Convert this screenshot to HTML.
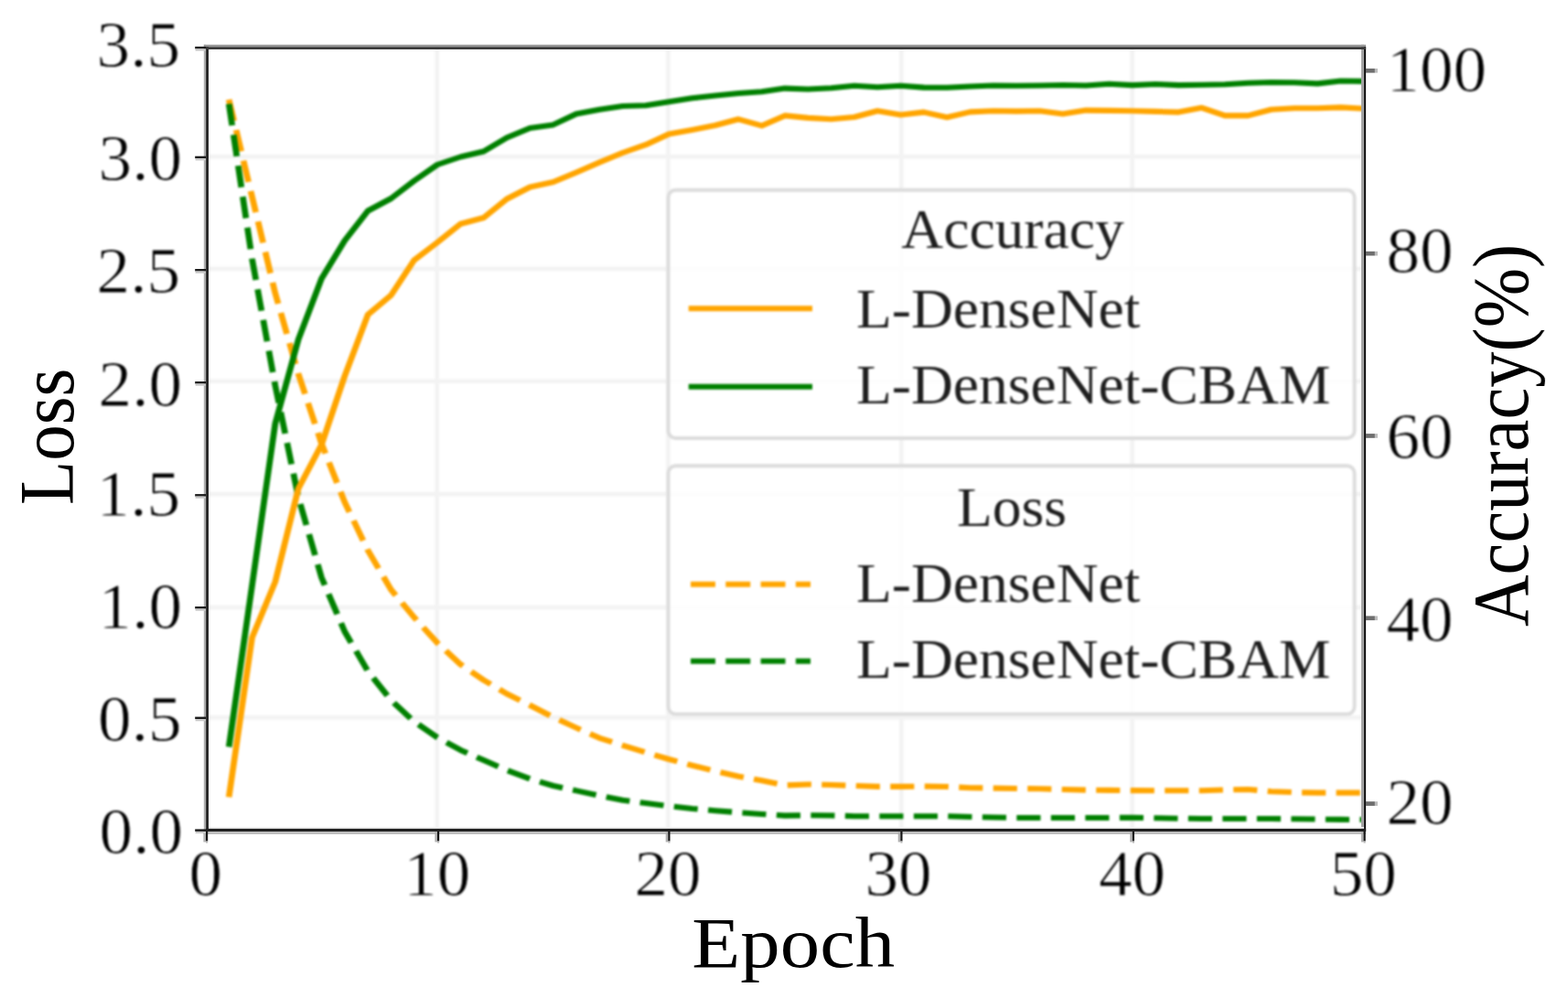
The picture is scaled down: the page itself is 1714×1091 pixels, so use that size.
<!DOCTYPE html>
<html lang="en"><head><meta charset="utf-8"><title>Loss and Accuracy vs Epoch</title>
<style>
html,body{margin:0;padding:0;background:#fff;}
body{width:1714px;height:1091px;overflow:hidden;}
svg{display:block;}
text{font-family:"Liberation Serif",serif;fill:#000;}
.tk text{stroke:#fff;stroke-width:0.8px;stroke-linejoin:round;}
.lg text{fill:#1e1e1e;}
.soft{filter:blur(0.8px);}
.soft2{filter:blur(0.35px);}
.cv{filter:blur(0.7px);}
</style></head><body>
<svg width="1714" height="1091" viewBox="0 0 1714 1091" role="img" aria-label="Training loss and accuracy versus epoch for L-DenseNet and L-DenseNet-CBAM">
<rect width="1714" height="1091" fill="#fff"/>
<g class="soft">
<rect x="-20" y="-20" width="1754" height="1131" fill="#fff"/>
<g stroke="#f3f3f3" stroke-width="4.6" fill="none">
<line x1="477.8" y1="51.5" x2="477.8" y2="907.6"/>
<line x1="730.4" y1="51.5" x2="730.4" y2="907.6"/>
<line x1="985.2" y1="51.5" x2="985.2" y2="907.6"/>
<line x1="1237.6" y1="51.5" x2="1237.6" y2="907.6"/>
<line x1="225.7" y1="171.3" x2="1491.2" y2="171.3"/>
<line x1="225.7" y1="293.9" x2="1491.2" y2="293.9"/>
<line x1="225.7" y1="416.7" x2="1491.2" y2="416.7"/>
<line x1="225.7" y1="540.1" x2="1491.2" y2="540.1"/>
<line x1="225.7" y1="664.0" x2="1491.2" y2="664.0"/>
<line x1="225.7" y1="784.4" x2="1491.2" y2="784.4"/>
</g>
<g class="cv" fill="none" stroke-width="6.1" stroke-linejoin="round" transform="scale(1.1,1)">
<polyline stroke="#ffa500" stroke-dasharray="23.77 10.33" points="227.47,108.9 250.49,215.0 273.51,320.6 296.53,408.9 319.55,485.0 342.56,549.0 365.58,601.6 388.60,644.6 411.62,675.0 434.64,702.8 457.65,726.3 480.67,743.5 503.69,758.5 526.71,771.0 549.73,784.0 572.75,795.6 595.76,806.8 618.78,814.8 641.80,822.5 664.82,830.0 687.84,836.8 710.85,843.0 733.87,848.7 756.89,853.3 779.91,858.5 802.93,857.5 825.95,858.0 848.96,859.0 871.98,859.9 895.00,859.9 918.02,859.6 941.04,860.0 964.05,861.2 987.07,861.6 1010.09,862.0 1033.11,862.3 1056.13,863.0 1079.15,863.6 1102.16,863.9 1125.18,864.1 1148.20,864.2 1171.22,864.3 1194.24,864.2 1217.25,863.5 1240.27,863.0 1263.29,865.2 1286.31,866.2 1309.33,866.6 1332.35,866.6 1355.36,866.6"/>
<polyline stroke="#008000" stroke-dasharray="23.77 10.33" points="227.47,113.6 250.49,283.0 273.51,421.6 296.53,543.8 319.55,631.5 342.56,690.5 365.58,733.8 388.60,765.4 411.62,788.9 434.64,806.2 457.65,819.9 480.67,831.1 503.69,842.0 526.71,851.5 549.73,859.0 572.75,864.4 595.76,869.7 618.78,874.7 641.80,878.0 664.82,881.2 687.84,884.0 710.85,886.2 733.87,888.2 756.89,890.0 779.91,891.6 802.93,891.2 825.95,891.5 848.96,892.2 871.98,892.2 895.00,892.2 918.02,892.2 941.04,892.2 964.05,893.0 987.07,893.5 1010.09,894.0 1033.11,894.0 1056.13,894.0 1079.15,894.0 1102.16,894.0 1125.18,893.8 1148.20,894.3 1171.22,894.7 1194.24,895.0 1217.25,895.0 1240.27,895.0 1263.29,895.0 1286.31,895.3 1309.33,895.6 1332.35,895.9 1355.36,896.0"/>
<polyline stroke="#ffa500" points="227.47,871.3 250.49,697.0 273.51,636.0 296.53,534.0 319.55,486.0 342.56,411.0 365.58,344.0 388.60,322.8 411.62,284.3 434.64,265.0 457.65,244.8 480.67,238.0 503.69,217.5 526.71,204.5 549.73,199.0 572.75,188.5 595.76,177.5 618.78,167.0 641.80,158.2 664.82,146.5 687.84,142.0 710.85,137.0 733.87,130.3 756.89,137.4 779.91,126.4 802.93,128.9 825.95,130.3 848.96,128.0 871.98,121.2 895.00,125.5 918.02,122.6 941.04,128.3 964.05,122.4 987.07,121.2 1010.09,121.6 1033.11,121.2 1056.13,124.4 1079.15,120.6 1102.16,120.9 1125.18,121.2 1148.20,121.9 1171.22,122.6 1194.24,117.8 1217.25,126.4 1240.27,126.4 1263.29,119.7 1286.31,118.3 1309.33,118.3 1332.35,117.4 1355.36,118.7"/>
<polyline stroke="#008000" points="227.47,816.5 250.49,640.0 273.51,463.0 296.53,371.0 319.55,304.5 342.56,263.0 365.58,230.5 388.60,217.0 411.62,197.7 434.64,180.0 457.65,171.5 480.67,165.5 503.69,150.5 526.71,140.0 549.73,136.4 572.75,124.5 595.76,119.7 618.78,116.0 641.80,115.2 664.82,111.2 687.84,107.3 710.85,104.5 733.87,102.0 756.89,100.2 779.91,96.6 802.93,97.5 825.95,96.2 848.96,93.7 871.98,95.2 895.00,93.7 918.02,95.6 941.04,95.8 964.05,94.5 987.07,93.5 1010.09,93.8 1033.11,93.5 1056.13,93.0 1079.15,93.5 1102.16,91.8 1125.18,93.1 1148.20,92.0 1171.22,93.1 1194.24,92.7 1217.25,92.2 1240.27,90.8 1263.29,90.0 1286.31,90.2 1309.33,91.4 1332.35,88.5 1355.36,88.9"/>
</g>
<rect x="730.5" y="207.8" width="750.1" height="271.2" rx="8" ry="8" fill="#fff" fill-opacity="0.8" stroke="#dcdcdc" stroke-width="3.9"/>
<g class="lg">
<text transform="translate(1107.0,271.2) scale(1.05,1.0)" font-size="60.5" text-anchor="middle">Accuracy</text>
<line x1="684.27" y1="337.3" x2="807.27" y2="337.3" stroke="#ffa500" stroke-width="6.1" transform="scale(1.1,1)"/>
<text transform="translate(936.0,357.9) scale(1.05,1.0)" font-size="60.5" text-anchor="start">L-DenseNet</text>
<line x1="684.27" y1="422.7" x2="807.27" y2="422.7" stroke="#008000" stroke-width="6.1" transform="scale(1.1,1)"/>
<text transform="translate(936.0,441.2) scale(1.05,1.0)" font-size="60.5" text-anchor="start">L-DenseNet-CBAM</text>
</g>
<rect x="730.5" y="509.3" width="750.1" height="271.3" rx="8" ry="8" fill="#fff" fill-opacity="0.8" stroke="#dcdcdc" stroke-width="3.9"/>
<g class="lg">
<text transform="translate(1106.0,574.8) scale(1.05,1.0)" font-size="60.5" text-anchor="middle">Loss</text>
<line x1="686.36" y1="638.7" x2="805.45" y2="638.7" stroke="#ffa500" stroke-width="6.1" stroke-dasharray="24.5 10.3" transform="scale(1.1,1)"/>
<text transform="translate(936.0,658.0) scale(1.05,1.0)" font-size="60.5" text-anchor="start">L-DenseNet</text>
<line x1="686.36" y1="722.7" x2="805.45" y2="722.7" stroke="#008000" stroke-width="6.1" stroke-dasharray="24.5 10.3" transform="scale(1.1,1)"/>
<text transform="translate(936.0,741.3) scale(1.05,1.0)" font-size="60.5" text-anchor="start">L-DenseNet-CBAM</text>
</g>
</g>
<g class="soft2">
<rect x="222.8" y="48.8" width="2.3" height="863.2" fill="#adadad"/>
<rect x="1488.0" y="48.8" width="3.0" height="863.2" fill="#a2a2a2"/>
<rect x="222.8" y="48.8" width="1270.3" height="2.4" fill="#9a9a9a"/>
<rect x="222.8" y="909.0" width="1270.3" height="3.0" fill="#bebebe"/>
<rect x="225" y="904.0" width="1266" height="1.8" fill="#eeeeee"/>
<rect x="225.1" y="51.2" width="2.9" height="857.8" fill="#262626"/>
<rect x="1491.0" y="51.2" width="2.1" height="857.8" fill="#181818"/>
<rect x="225.1" y="51.2" width="1268" height="2.8" fill="#3a3a3a"/>
<rect x="225.1" y="905.9" width="1268" height="3.1" fill="#202020"/>
<rect x="222.4" y="909" width="2.6" height="11.5" fill="#b0b0b0"/>
<rect x="225.0" y="909" width="2.2" height="10.6" fill="#141414"/>
<rect x="225.0" y="919.6" width="2.2" height="2" fill="#bbbbbb"/>
<rect x="475.4" y="909" width="2.6" height="11.5" fill="#b0b0b0"/>
<rect x="478.0" y="909" width="2.2" height="10.6" fill="#141414"/>
<rect x="478.0" y="919.6" width="2.2" height="2" fill="#bbbbbb"/>
<rect x="727.7" y="909" width="2.6" height="11.5" fill="#b0b0b0"/>
<rect x="730.3" y="909" width="2.2" height="10.6" fill="#141414"/>
<rect x="730.3" y="919.6" width="2.2" height="2" fill="#bbbbbb"/>
<rect x="981.7" y="909" width="2.6" height="11.5" fill="#b0b0b0"/>
<rect x="984.3" y="909" width="2.2" height="10.6" fill="#141414"/>
<rect x="984.3" y="919.6" width="2.2" height="2" fill="#bbbbbb"/>
<rect x="1235.2" y="909" width="2.6" height="11.5" fill="#b0b0b0"/>
<rect x="1237.8" y="909" width="2.2" height="10.6" fill="#141414"/>
<rect x="1237.8" y="919.6" width="2.2" height="2" fill="#bbbbbb"/>
<rect x="1487.9" y="909" width="2.6" height="11.5" fill="#b0b0b0"/>
<rect x="1490.5" y="909" width="2.2" height="10.6" fill="#141414"/>
<rect x="1490.5" y="919.6" width="2.2" height="2" fill="#bbbbbb"/>
<rect x="213.2" y="50.9" width="12" height="2.5" fill="#1c1c1c"/>
<rect x="213.6" y="53.5" width="11.4" height="2.1" fill="#c8c8c8"/>
<rect x="213.2" y="170.7" width="12" height="2.5" fill="#1c1c1c"/>
<rect x="213.6" y="173.3" width="11.4" height="2.1" fill="#c8c8c8"/>
<rect x="213.2" y="294.0" width="12" height="2.5" fill="#1c1c1c"/>
<rect x="213.6" y="296.6" width="11.4" height="2.1" fill="#c8c8c8"/>
<rect x="213.2" y="417.0" width="12" height="2.5" fill="#1c1c1c"/>
<rect x="213.6" y="419.6" width="11.4" height="2.1" fill="#c8c8c8"/>
<rect x="213.2" y="540.1" width="12" height="2.5" fill="#1c1c1c"/>
<rect x="213.6" y="542.7" width="11.4" height="2.1" fill="#c8c8c8"/>
<rect x="213.2" y="663.0" width="12" height="2.5" fill="#1c1c1c"/>
<rect x="213.6" y="665.6" width="11.4" height="2.1" fill="#c8c8c8"/>
<rect x="213.2" y="783.6" width="12" height="2.5" fill="#1c1c1c"/>
<rect x="213.6" y="786.2" width="11.4" height="2.1" fill="#c8c8c8"/>
<rect x="213.2" y="906.4" width="12" height="2.5" fill="#1c1c1c"/>
<rect x="213.6" y="909.0" width="11.4" height="2.1" fill="#c8c8c8"/>
<rect x="1493" y="74.9" width="9.9" height="4.7" fill="#6e6e6e"/>
<rect x="1502.9" y="74.9" width="3" height="4.7" fill="#bcbcbc"/>
<rect x="1493" y="274.8" width="9.9" height="4.7" fill="#6e6e6e"/>
<rect x="1502.9" y="274.8" width="3" height="4.7" fill="#bcbcbc"/>
<rect x="1493" y="474.1" width="9.9" height="4.7" fill="#6e6e6e"/>
<rect x="1502.9" y="474.1" width="3" height="4.7" fill="#bcbcbc"/>
<rect x="1493" y="673.4" width="9.9" height="4.7" fill="#6e6e6e"/>
<rect x="1502.9" y="673.4" width="3" height="4.7" fill="#bcbcbc"/>
<rect x="1493" y="876.2" width="9.9" height="4.7" fill="#6e6e6e"/>
<rect x="1502.9" y="876.2" width="3" height="4.7" fill="#bcbcbc"/>
</g>
<g class="soft">
<g class="tk">
<text transform="translate(224.7,978.5) scale(1.03,1.0)" font-size="71" text-anchor="middle">0</text>
<text transform="translate(477.7,978.5) scale(1.03,1.0)" font-size="71" text-anchor="middle">10</text>
<text transform="translate(730.0,978.5) scale(1.03,1.0)" font-size="71" text-anchor="middle">20</text>
<text transform="translate(982.0,978.5) scale(1.03,1.0)" font-size="71" text-anchor="middle">30</text>
<text transform="translate(1237.5,978.5) scale(1.03,1.0)" font-size="71" text-anchor="middle">40</text>
<text transform="translate(1490.2,978.5) scale(1.03,1.0)" font-size="71" text-anchor="middle">50</text>
<text transform="translate(197.0,73.2) scale(1.03,1.0)" font-size="71" text-anchor="end">3.5</text>
<text transform="translate(199.0,196.6) scale(1.03,1.0)" font-size="71" text-anchor="end">3.0</text>
<text transform="translate(197.0,319.6) scale(1.03,1.0)" font-size="71" text-anchor="end">2.5</text>
<text transform="translate(199.0,443.7) scale(1.03,1.0)" font-size="71" text-anchor="end">2.0</text>
<text transform="translate(197.0,564.3) scale(1.03,1.0)" font-size="71" text-anchor="end">1.5</text>
<text transform="translate(199.0,687.4) scale(1.03,1.0)" font-size="71" text-anchor="end">1.0</text>
<text transform="translate(198.5,810.0) scale(1.03,1.0)" font-size="71" text-anchor="end">0.5</text>
<text transform="translate(200.0,932.7) scale(1.03,1.0)" font-size="71" text-anchor="end">0.0</text>
<text transform="translate(1515.5,100.0) scale(1.03,1.0)" font-size="71" text-anchor="start">100</text>
<text transform="translate(1515.5,298.0) scale(1.03,1.0)" font-size="71" text-anchor="start">80</text>
<text transform="translate(1515.5,500.6) scale(1.03,1.0)" font-size="71" text-anchor="start">60</text>
<text transform="translate(1515.5,700.5) scale(1.03,1.0)" font-size="71" text-anchor="start">40</text>
<text transform="translate(1515.5,900.5) scale(1.03,1.0)" font-size="71" text-anchor="start">20</text>
</g>
</g>
<text transform="translate(867.2,1057.2) scale(1.113,1.0)" font-size="78" text-anchor="middle">Epoch</text>
<text transform="translate(79.7,477.4) rotate(-90) scale(1.0,1.076)" font-size="79" text-anchor="middle">Loss</text>
<text transform="translate(1670.0,476.0) rotate(-90) scale(1.0,1.11)" font-size="78.5" text-anchor="middle">Accuracy(%)</text>
</svg>
</body></html>
